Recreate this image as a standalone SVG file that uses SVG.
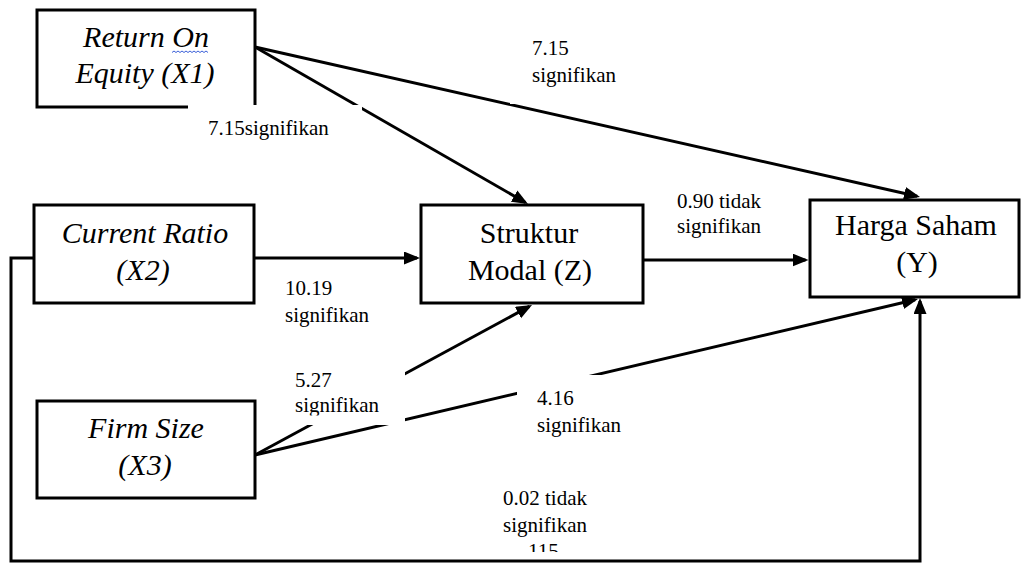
<svg xmlns="http://www.w3.org/2000/svg" width="1021" height="564" viewBox="0 0 1021 564">
<style>
.box{fill:#fff;stroke:#000;stroke-width:3}
.bt{font-family:"Liberation Serif","Times New Roman",serif;font-size:30px;fill:#000;text-anchor:middle}
.it{font-style:italic}
.lbl{font-family:"Liberation Serif","Times New Roman",serif;font-size:21px;fill:#000}
.ln{fill:none;stroke:#000;stroke-width:3}
.mask{fill:#fff;stroke:none}
</style>
<defs>
<marker id="ah" markerUnits="userSpaceOnUse" markerWidth="18" markerHeight="14" refX="13" refY="6.5" orient="auto" viewBox="0 0 18 14">
<path d="M0,0 L16,6.5 L0,13 z" fill="#000"/>
</marker>
<clipPath id="c527"><rect x="280" y="355" width="130" height="60.5"/></clipPath>
</defs>
<rect width="1021" height="564" fill="#fff"/>

<g id="x1">
<rect class="box" x="37" y="10" width="218" height="97"/>
<text class="bt it" x="146" y="47">Return On</text>
<text class="bt it" x="145" y="83">Equity (X1)</text>
<path d="M172,52.5 l2,-1.5 l2,1.5 l2,-1.5 l2,1.5 l2,-1.5 l2,1.5 l2,-1.5 l2,1.5 l2,-1.5 l2,1.5 l2,-1.5 l2,1.5 l2,-1.5 l2,1.5 l2,-1.5 l2,1.5 l2,-1.5 l2,1.5" fill="none" stroke="#3a5fd8" stroke-width="1"/>
</g>
<g id="x2">
<rect class="box" x="34" y="205" width="220" height="98"/>
<text class="bt it" x="145" y="243">Current Ratio</text>
<text class="bt it" x="143" y="280">(X2)</text>
</g>
<g id="x3">
<rect class="box" x="37" y="401" width="218" height="97"/>
<text class="bt it" x="146" y="438">Firm Size</text>
<text class="bt it" x="145" y="475">(X3)</text>
</g>
<g id="z">
<rect class="box" x="421" y="205" width="222" height="98"/>
<text class="bt" x="529" y="243">Struktur</text>
<text class="bt" x="530" y="280">Modal (Z)</text>
</g>
<g id="y">
<rect class="box" x="810" y="200" width="209" height="97"/>
<text class="bt" x="916" y="235">Harga Saham</text>
<text class="bt" x="917" y="272">(Y)</text>
</g>

<g id="pagenum">
<text class="lbl" x="528" y="558">115</text>
<rect class="mask" x="520" y="552" width="50" height="7"/>
</g>

<g id="connectors">
<line class="ln" x1="255" y1="47" x2="917.1" y2="196.3" marker-end="url(#ah)"/>
<line class="ln" x1="255" y1="47" x2="525.4" y2="202.5" marker-end="url(#ah)"/>
<line class="ln" x1="254" y1="258" x2="417" y2="258" marker-end="url(#ah)"/>
<line class="ln" x1="643" y1="260" x2="805.5" y2="260" marker-end="url(#ah)"/>
<line class="ln" x1="255" y1="455" x2="529.4" y2="306.4" marker-end="url(#ah)"/>
<line class="ln" x1="255" y1="455" x2="915.1" y2="299.7" marker-end="url(#ah)"/>
<path class="ln" d="M34,258 H11 V561 H920 V301" marker-end="url(#ah)"/>
</g>

<g id="labels">
<rect class="mask" x="510" y="28" width="115" height="76"/>
<text class="lbl" x="532" y="55">7.15</text>
<text class="lbl" x="532" y="82">signifikan</text>

<rect class="mask" x="188" y="105" width="174" height="45"/>
<text class="lbl" x="208" y="135">7.15signifikan</text>

<text class="lbl" x="285" y="295">10.19</text>
<text class="lbl" x="285" y="322">signifikan</text>

<text class="lbl" x="677" y="208">0.90 tidak</text>
<text class="lbl" x="677" y="233">signifikan</text>

<rect class="mask" x="285" y="360" width="120" height="65"/>
<g clip-path="url(#c527)">
<text class="lbl" x="295" y="387">5.27</text>
<text class="lbl" x="295" y="412">signifikan</text>
</g>

<rect class="mask" x="517" y="375" width="110" height="70"/>
<text class="lbl" x="537" y="405">4.16</text>
<text class="lbl" x="537" y="432">signifikan</text>

<text class="lbl" x="503" y="505">0.02 tidak</text>
<text class="lbl" x="503" y="532">signifikan</text>
</g>
</svg>
